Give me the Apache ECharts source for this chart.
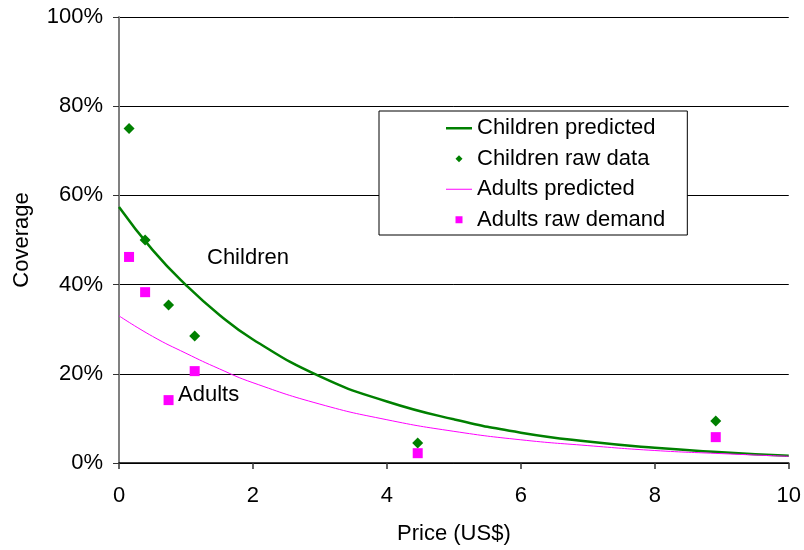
<!DOCTYPE html>
<html>
<head>
<meta charset="utf-8">
<script src="https://cdn.jsdelivr.net/npm/echarts@6/dist/echarts.min.js"></script>
<style>
  html, body { margin: 0; padding: 0; background: #fff; }
  #chart { width: 804px; height: 550px; }
</style>
</head>
<body>
<div id="chart"></div>
<script>
// price points (US$)
const rawPrices = [0.15, 0.39, 0.74, 1.13, 4.46, 8.91];
const childrenRaw = [75.0, 50.0, 35.4, 28.5, 4.5, 9.4];
const adultsRaw = [46.2, 38.3, 14.1, 20.6, 2.2, 5.8];

const curvePrices = [0, 0.5, 1, 1.5, 2, 3, 4, 5, 6, 7, 8, 9, 10];
const childrenPredicted = [57.4, 47.8, 39.9, 33.2, 27.7, 19.4, 13.8, 9.8, 6.8, 4.8, 3.4, 2.4, 1.6];
const adultsPredicted = [33.0, 28.4, 24.6, 21.1, 18.0, 13.2, 9.7, 7.1, 5.2, 3.9, 2.8, 2.1, 1.5];

const pairs = (xs, ys) => xs.map((x, i) => [x, ys[i]]);

const FONT = 'Liberation Sans, Arial, sans-serif';
const GREEN = '#008000';
const MAGENTA = '#ff00ff';
const FS = 22;

// legend icons (keep aspect inside the item box)
const ICON_THICK_LINE = 'path://M0,0 L26,0 L26,2.5 L0,2.5 Z';
const ICON_THIN_LINE = 'path://M0,0 L26,0 L26,1 L0,1 Z';
const ICON_DIAMOND = 'path://M5,0 L10,5 L5,10 L0,5 Z';
const ICON_SQUARE = 'path://M0,0 L10,0 L10,10 L0,10 Z';

const chart = echarts.init(document.getElementById('chart'), null, { renderer: 'canvas' });

chart.setOption({
  animation: false,
  textStyle: { fontFamily: FONT, color: '#000' },
  grid: { left: 119, right: 13, top: 17, bottom: 87 },
  xAxis: {
    type: 'value',
    min: 0, max: 10, interval: 2,
    name: 'Price (US$)',
    nameLocation: 'middle',
    nameGap: 60,
    nameTextStyle: { fontSize: FS, color: '#000', fontFamily: FONT },
    axisLine: { show: true, lineStyle: { color: '#000', width: 1.5 } },
    axisTick: { show: true, length: 6, lineStyle: { color: '#333', width: 1.5 } },
    axisLabel: { fontSize: FS, color: '#000', margin: 22, fontFamily: FONT },
    splitLine: { show: false }
  },
  yAxis: {
    type: 'value',
    min: 0, max: 100, interval: 20,
    name: 'Coverage',
    nameLocation: 'middle',
    nameGap: 86,
    nameTextStyle: { fontSize: FS, color: '#000', fontFamily: FONT },
    axisLine: { show: true, lineStyle: { color: '#808080', width: 2 } },
    axisTick: { show: true, length: 6, lineStyle: { color: '#333', width: 1 } },
    axisLabel: { fontSize: FS, color: '#000', margin: 16, formatter: '{value}%', fontFamily: FONT },
    splitLine: { show: true, lineStyle: { color: '#000', width: 1 } }
  },
  legend: {
    orient: 'vertical',
    left: 379,
    top: 111,
    backgroundColor: '#fff',
    borderColor: '#000',
    borderWidth: 1,
    borderRadius: 0,
    padding: [5, 22, 3, 67],
    itemWidth: 26,
    itemHeight: 7,
    itemGap: 6,
    itemTextGap: 4,
    textStyle: { fontSize: FS, color: '#000', lineHeight: 24.5, fontFamily: FONT },
    data: [
      { name: 'Children predicted', icon: ICON_THICK_LINE },
      { name: 'Children raw data', icon: ICON_DIAMOND },
      { name: 'Adults predicted', icon: ICON_THIN_LINE },
      { name: 'Adults raw demand', icon: ICON_SQUARE }
    ]
  },
  graphic: [
    { type: 'text', left: 207, top: 247, style: { text: 'Children', fontSize: FS, fill: '#000', fontFamily: FONT } },
    { type: 'text', left: 178, top: 384, style: { text: 'Adults', fontSize: FS, fill: '#000', fontFamily: FONT } }
  ],
  series: [
    {
      name: 'Children predicted',
      type: 'line',
      smooth: true,
      showSymbol: false,
      symbol: 'none',
      z: 3,
      lineStyle: { color: GREEN, width: 2.5 },
      itemStyle: { color: GREEN },
      data: pairs(curvePrices, childrenPredicted)
    },
    {
      name: 'Children raw data',
      type: 'scatter',
      symbol: 'diamond',
      symbolSize: 11,
      z: 4,
      itemStyle: { color: GREEN, opacity: 1 },
      data: pairs(rawPrices, childrenRaw)
    },
    {
      name: 'Adults predicted',
      type: 'line',
      smooth: true,
      showSymbol: false,
      symbol: 'none',
      z: 3,
      lineStyle: { color: MAGENTA, width: 1 },
      itemStyle: { color: MAGENTA },
      data: pairs(curvePrices, adultsPredicted)
    },
    {
      name: 'Adults raw demand',
      type: 'scatter',
      symbol: 'rect',
      symbolSize: 10,
      z: 4,
      itemStyle: { color: MAGENTA, opacity: 1 },
      data: pairs(rawPrices, adultsRaw)
    }
  ]
});
</script>
</body>
</html>
